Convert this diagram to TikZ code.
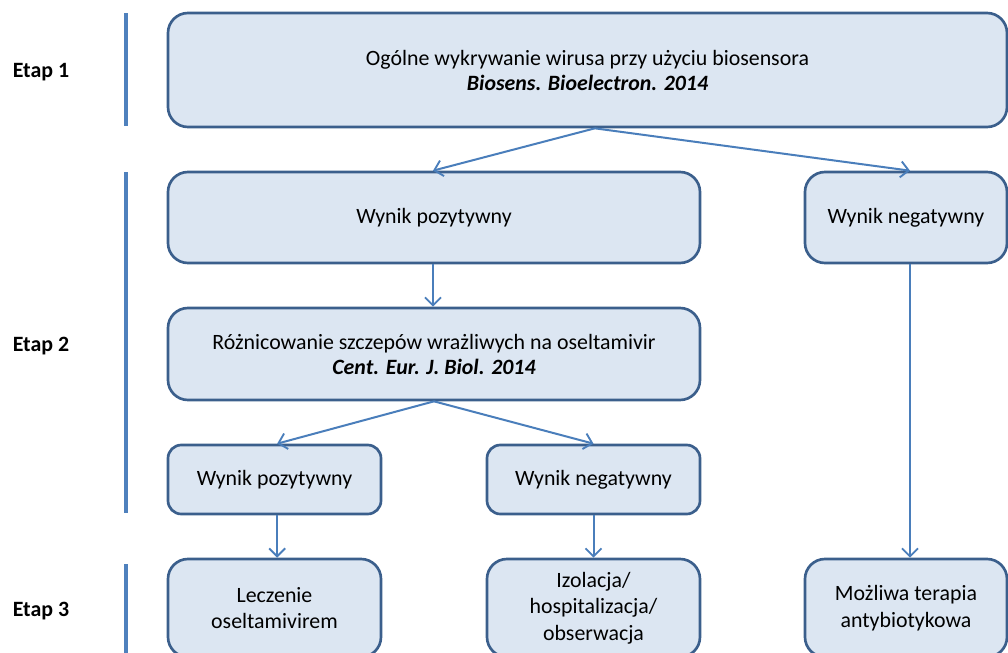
\documentclass[tikz,border=0pt]{standalone}
\usepackage{fontspec}
\setmainfont{Carlito}
\usetikzlibrary{arrows.meta}
\definecolor{boxfill}{HTML}{DCE6F2}
\definecolor{boxline}{HTML}{3B5F8C}
\definecolor{arrowc}{HTML}{4A7EBB}
\definecolor{barc}{HTML}{4F81BD}
\begin{document}
\begin{tikzpicture}[x=0.75pt,y=-0.75pt,
  box/.style={draw=boxline, fill=boxfill, line width=2pt, align=center,
    inner sep=0pt, font=\fontsize{16.4}{20}\selectfont},
  bigbox/.style={box, rounded corners=15pt},
  smallbox/.style={box, rounded corners=10pt},
  conn/.style={draw=arrowc, line width=1.5pt, -{Straight Barb[length=6pt,width=12pt,line width=1.4pt]}},
  stagebar/.style={draw=barc, line width=3pt},
  stagelbl/.style={font=\fontsize{16.4}{20}\selectfont\bfseries}]
\useasboundingbox (0,0) rectangle (1008,653);
\begin{scope}
\clip (0,0) rectangle (1008,653);
% stage labels
\node[stagelbl] (e1) at (41,72) {Etap 1};
\node[stagelbl] (e2) at (41,346) {Etap 2};
\node[stagelbl] (e3) at (41,611) {Etap 3};
\coordinate (b1t) at (126,13); \coordinate (b1b) at (126,126);
\coordinate (b2t) at (126,172); \coordinate (b2b) at (126,513);
\coordinate (b3t) at (126,564); \coordinate (b3b) at (126,660);
\draw[stagebar] (b1t) -- (b1b);
\draw[stagebar] (b2t) -- (b2b);
\draw[stagebar] (b3t) -- (b3b);
% boxes
\node[bigbox, minimum width=629.25pt, minimum height=85.5pt, font=\fontsize{16.4}{18.75}\selectfont] (top) at (587.5,70)
  {Ogólne wykrywanie wirusa przy użyciu biosensora\\ \textbf{\textit{Biosens. Bioelectron. 2014}}};
\node[bigbox, minimum width=399pt, minimum height=68.25pt] (wp1) at (434,217.5) {Wynik pozytywny};
\node[bigbox, minimum width=151.5pt, minimum height=68.25pt] (wn1) at (906,217.5) {Wynik negatywny};
\node[bigbox, minimum width=399pt, minimum height=69pt, font=\fontsize{16.4}{18.75}\selectfont] (roz) at (434,354)
  {Różnicowanie szczepów wrażliwych na oseltamivir\\ \textbf{\textit{Cent. Eur. J. Biol. 2014}}};
\node[smallbox, minimum width=159.75pt, minimum height=51.75pt] (wp2) at (274.5,479.5) {Wynik pozytywny};
\node[smallbox, minimum width=159.75pt, minimum height=51.75pt] (wn2) at (593.5,479.5) {Wynik negatywny};
\node[bigbox, minimum width=159.75pt, minimum height=73.5pt] (lecz) at (274.5,608) {Leczenie\\oseltamivirem};
\node[bigbox, minimum width=159.75pt, minimum height=73.5pt] (izo) at (593.5,608) {Izolacja/\\hospitalizacja/\\obserwacja};
\node[bigbox, minimum width=151.5pt, minimum height=73.5pt] (ab) at (906,608) {Możliwa terapia\\antybiotykowa};
% connectors
\draw[conn] ([xshift=5.5pt]top.south) -- ([xshift=-0.75pt]wp1.north);
\draw[conn] ([xshift=5.5pt]top.south) -- ([xshift=3pt]wn1.north);
\draw[conn] ([xshift=-0.75pt]wp1.south) -- ([xshift=-0.75pt]roz.north);
\draw[conn] (roz.south) -- ([xshift=2pt]wp2.north);
\draw[conn] (roz.south) -- (wn2.north);
\draw[conn] ([xshift=3pt]wn1.south) -- ([xshift=3pt]ab.north);
\draw[conn] ([xshift=2pt]wp2.south) -- ([xshift=2pt]lecz.north);
\draw[conn] (wn2.south) -- (izo.north);
\end{scope}
\end{tikzpicture}
\end{document}
